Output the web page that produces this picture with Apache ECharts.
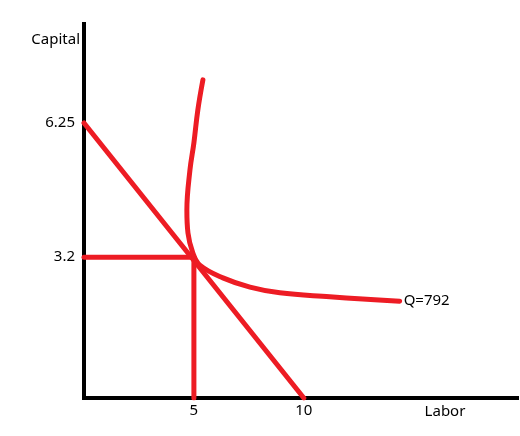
<!DOCTYPE html>
<html>
<head>
<meta charset="utf-8">
<script src="https://cdn.jsdelivr.net/npm/echarts@6/dist/echarts.min.js"></script>
<style>html,body{margin:0;padding:0;background:#fff;}#c{width:520px;height:436px;}</style>
</head>
<body>
<div id="c"></div>
<script>
// Tick values and labels
const laborTicks = [5, 10];
const capitalTicks = [3.2, 6.25];
// Budget line: intercepts
const budgetLabor = [0, 10];
const budgetCapital = [6.25, 0];
// Optimal bundle
const optimalLabor = 5;
const optimalCapital = 3.2;
// Isoquant Q=792
const isoLabor   = [5.41, 5.18, 5.00, 4.82, 4.68, 4.73, 4.95, 5.27, 6.32, 7.55, 8.91, 11.18, 12.68, 14.36];
const isoCapital = [7.23, 6.55, 5.80, 5.18, 4.27, 3.75, 3.30, 3.02, 2.73, 2.52, 2.39, 2.30, 2.25, 2.20];
const isoLabel = 'Q=792';

const RED = '#ed1c24';
const FONT = 'Noto Sans';
const FS = 15;
const chart = echarts.init(document.getElementById('c'));
const redLine = {width: 5, color: RED, cap: 'round', join: 'round'};

chart.setOption({
  animation: false,
  grid: {left: 84, right: 3, top: 24, bottom: 38, containLabel: false},
  xAxis: {
    type: 'value', min: 0, max: 19.7,
    name: 'Labor', nameLocation: 'end', nameGap: -72,
    nameTextStyle: {color: '#000', fontFamily: FONT, fontSize: FS, align: 'center', verticalAlign: 'top', padding: [6, 0, 0, 0]},
    axisLine: {show: true, lineStyle: {color: '#000', width: 4, cap: 'square'}},
    axisTick: {show: false},
    splitLine: {show: false},
    axisLabel: {customValues: laborTicks, color: '#000', fontFamily: FONT, fontSize: FS, margin: 5, formatter: v => String(v)}
  },
  yAxis: {
    type: 'value', min: 0, max: 8.5,
    name: 'Capital', nameLocation: 'end', nameGap: -16,
    nameTextStyle: {color: '#000', fontFamily: FONT, fontSize: FS, align: 'right', verticalAlign: 'middle', padding: [0, 4, 0, 0]},
    axisLine: {show: true, lineStyle: {color: '#000', width: 4, cap: 'square'}},
    axisTick: {show: false},
    splitLine: {show: false},
    axisLabel: {customValues: capitalTicks, color: '#000', fontFamily: FONT, fontSize: FS, margin: 9, formatter: v => String(v)}
  },
  series: [
    {type: 'line', symbol: 'none', lineStyle: redLine, data: budgetLabor.map((x, i) => [x, budgetCapital[i]])},
    {type: 'line', symbol: 'none', lineStyle: redLine, data: [[0, optimalCapital], [optimalLabor, optimalCapital]]},
    {type: 'line', symbol: 'none', lineStyle: redLine, data: [[optimalLabor, 0], [optimalLabor, optimalCapital]]},
    {type: 'line', symbol: 'none', smooth: 0.4, lineStyle: redLine,
     data: isoLabor.map((x, i) => [x, isoCapital[i]]),
     endLabel: {show: true, formatter: isoLabel, color: '#000', fontFamily: FONT, fontSize: FS, distance: 4}}
  ]
});
</script>
</body>
</html>
